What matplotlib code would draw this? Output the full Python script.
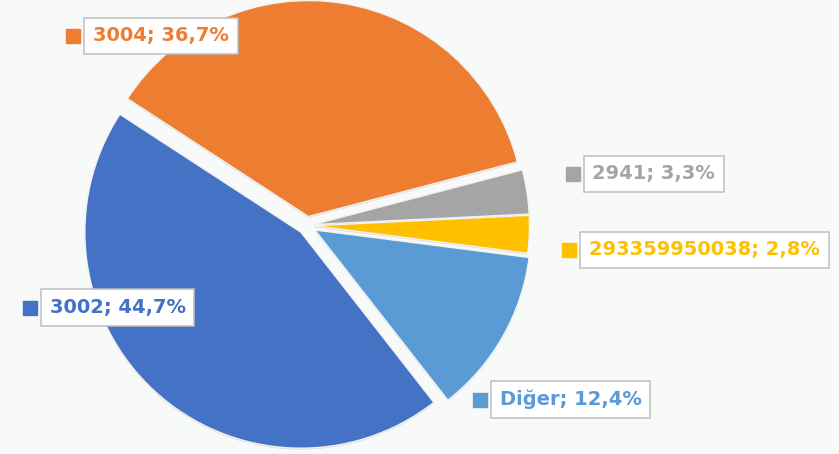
import matplotlib
matplotlib.use("Agg")
import matplotlib.pyplot as plt
from matplotlib import patheffects

labels = ["3002", "3004", "2941", "293359950038", "Diğer"]
shares = [44.7, 36.7, 3.3, 2.8, 12.4]
colors = ["#4472C4", "#ED7D31", "#A5A5A5", "#FFC000", "#5B9BD5"]

# label box anchors in pixels from the top-left: (marker x, y)
label_pos = [(29.5, 307.5), (73.0, 36.0), (572.5, 174.0), (569.0, 250.0), (479.5, 399.5)]

W, H = 839, 454
bg = "#f8f9f9"
fig = plt.figure(figsize=(W / 100, H / 100), dpi=100, facecolor=bg)

cx, cy, r = 307.0, 225.5, 216.0
lim = 1.1
ax = fig.add_axes([(cx - r * lim) / W, (H - cy - r * lim) / H, 2 * r * lim / W, 2 * r * lim / H])
ax.axis("off")

wedges, _ = ax.pie(
    shares,
    colors=colors,
    startangle=-52,
    counterclock=False,
    radius=1.0,
    explode=[0.042, 0.042, 0.03, 0.03, 0.042],
    wedgeprops=dict(edgecolor="#f2f2f2", linewidth=1.0),
)
ax.set_xlim(-lim, lim)
ax.set_ylim(-lim, lim)
ax.set_aspect("equal")
for w in wedges:
    w.set_path_effects([
        patheffects.SimplePatchShadow(offset=(0, -1), shadow_rgbFace="#000000", alpha=0.12),
        patheffects.Normal(),
    ])

for name, share, col, (mx, my) in zip(labels, shares, colors, label_pos):
    fx, fy = mx / W, 1 - my / H
    fig.add_artist(plt.Line2D([fx], [fy], marker="s", markersize=10, color=col,
                              linestyle="none", transform=fig.transFigure))
    txt = f"{name}; {share:.1f}%".replace(".", ",")
    fig.text((mx + 20) / W, fy, txt, ha="left", va="center", fontsize=14,
             fontweight="bold", color=col, family="DejaVu Sans",
             bbox=dict(boxstyle="square,pad=0.45", facecolor="white",
                       edgecolor="#bfbfbf", linewidth=1.1))

fig.savefig("out.png", dpi=100, facecolor=bg)
